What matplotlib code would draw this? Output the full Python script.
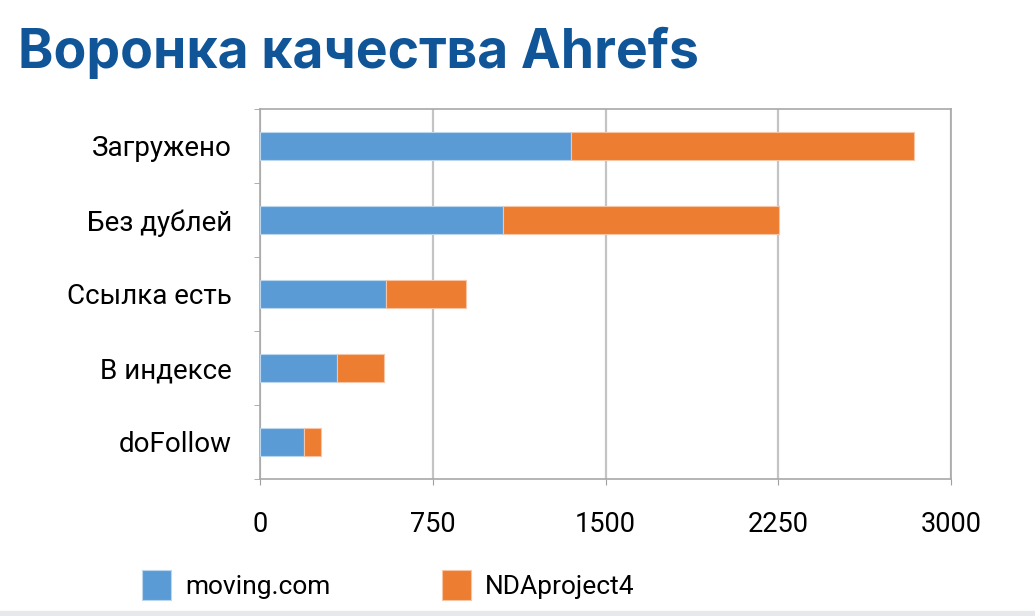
import matplotlib.pyplot as plt
import numpy as np

categories = ["Загружено", "Без дублей", "Ссылка есть", "В индексе", "doFollow"]
moving = [1350, 1056, 547, 334, 190]
nda = [1491, 1197, 346, 203, 75]
series_names = ["moving.com", "NDAproject4"]
xticks = [0, 750, 1500, 2250, 3000]

BLUE = "#5B9BD5"
ORANGE = "#ED7D31"
GRID = "#C4C4C4"

plt.rcParams["font.family"] = ["Roboto", "DejaVu Sans"]

fig = plt.figure(figsize=(10.35, 6.16), dpi=100)
ax = fig.add_axes([260 / 1035, 1 - 479 / 616, 691 / 1035, 370 / 616])

y = np.arange(len(categories))
ax.barh(y, moving, height=0.38, color=BLUE, edgecolor="#BCD6EE", linewidth=0.8,
        label=series_names[0], zorder=3)
ax.barh(y, nda, left=moving, height=0.38, color=ORANGE, edgecolor="#F7C5A6",
        linewidth=0.8, label=series_names[1], zorder=3)

ax.set_ylim(len(categories) - 0.5, -0.5)
ax.set_xlim(0, 3000)
ax.set_xticks(xticks)
ax.set_xticklabels([str(t) for t in xticks], fontsize=19.5)
ax.set_yticks(y)
ax.set_yticklabels(categories, fontsize=20)
ax.set_yticks(np.arange(-0.5, len(categories), 1), minor=True)
ax.tick_params(axis="y", which="major", length=0, pad=20)
ax.tick_params(axis="y", which="minor", length=4, color="#A0A0A0")
ax.tick_params(axis="x", length=4, color="#A0A0A0", pad=19)

ax.grid(axis="x", color=GRID, linewidth=1.6, zorder=0)
for s in ax.spines.values():
    s.set_color("#A8A8A8")
    s.set_linewidth(1.2)

fig.text(18 / 1035, 1 - 68 / 616, "Воронка качества Ahrefs", fontsize=38.5,
         fontweight="bold", color="#0F5597", family=["Inter", "DejaVu Sans"])

leg = fig.legend(loc="center left", bbox_to_anchor=(142 / 1035, 1 - 585 / 616),
                 ncol=2, frameon=False, fontsize=19, handlelength=1.1,
                 handleheight=1.4, columnspacing=4.2, handletextpad=0.55,
                 borderpad=0, borderaxespad=0)

fig.patches.append(plt.Rectangle((0, 0), 1, 5 / 616, transform=fig.transFigure,
                                 color="#E6E8EC", zorder=0))

fig.savefig("out.png", dpi=100)
